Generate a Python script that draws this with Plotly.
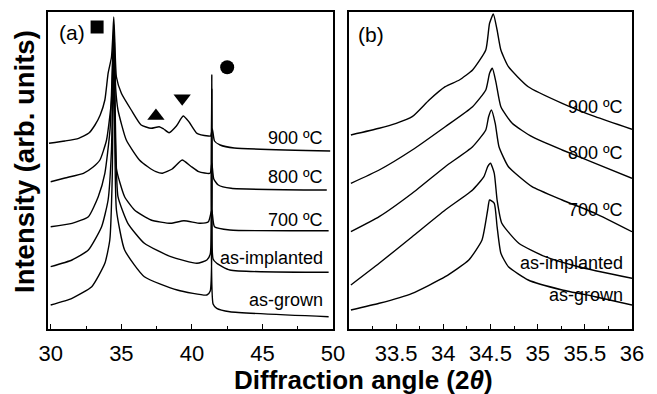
import plotly.graph_objects as go

# ---------------- Panel (a): wide scan 30-50 deg ----------------
a_900_x = [29.87, 31.0, 31.97, 32.7, 33.13, 33.5, 33.83, 34.06, 34.30, 34.40, 34.46, 34.53, 34.65, 35.0, 35.7, 36.4, 37.1, 37.68, 38.0, 38.38, 38.9, 39.38, 39.8, 40.36, 41.17, 41.33, 41.45, 41.6, 42.0, 43.0, 49.8]
a_900_y = [185.7, 188, 190.7, 196, 204, 214, 229, 255.7, 272, 295, 312, 290, 252, 235.7, 219, 204, 200.7, 202.3, 200, 196.3, 203, 213, 207, 195.7, 193, 193, 200, 188, 184, 181, 178]

a_800_x = [29.99, 31.0, 32.31, 33.0, 33.48, 33.95, 34.30, 34.46, 34.6, 34.76, 35.35, 36.28, 36.9, 37.45, 37.91, 38.6, 39.31, 39.9, 40.48, 41.29, 41.41, 41.55, 41.87, 42.78, 49.56]
a_800_y = [147.3, 151, 155.7, 162, 169, 189, 229, 305, 240, 219, 189, 169, 162, 157.3, 155.7, 160, 169, 163, 157.3, 155.7, 166, 150, 144, 140.7, 139]

a_700_x = [29.99, 31.5, 32.66, 33.36, 33.83, 34.2, 34.46, 34.55, 34.65, 35.23, 35.93, 37.1, 38.5, 39.43, 40.59, 41.17, 41.41, 41.6, 42.69, 49.69]
a_700_y = [102.3, 105.7, 112.3, 132.3, 155.7, 200, 300, 210, 160, 132.3, 119, 109, 105.7, 108.3, 105.7, 107.3, 119, 102.3, 99, 98.3]

a_imp_x = [29.99, 31.5, 32.66, 33.6, 34.06, 34.3, 34.46, 34.6, 34.76, 35.46, 36.63, 38.5, 40.36, 41.06, 41.3, 41.41, 41.5, 41.76, 42.69, 49.69]
a_imp_y = [62.3, 69, 79, 102.3, 129, 180, 295, 190, 132.3, 105.7, 85.7, 72.3, 65.7, 69, 75, 240, 70, 65.7, 59, 56.7]

a_grown_x = [29.99, 31.5, 32.9, 33.83, 34.18, 34.35, 34.46, 34.55, 34.65, 35.23, 36.63, 38.96, 41.06, 41.3, 41.41, 41.5, 41.76, 42.69, 49.69]
a_grown_y = [24, 30.7, 42.3, 65.7, 89, 150, 290, 170, 119, 79, 52.3, 39, 34, 38, 254, 25, 20.7, 17.3, 12.3]

# peak markers (square, up-triangle, down-triangle, circle)
mark_x = [33.28, 37.45, 39.31, 42.5]
mark_y = [302, 213, 230.7, 261.7]
mark_sym = ["square", "triangle-up", "triangle-down", "circle"]

# ---------------- Panel (b): zoom 33-36 deg ----------------
b_900_x = [33.02, 33.32, 33.50, 33.67, 33.85, 34.02, 34.17, 34.31, 34.45, 34.49, 34.53, 34.57, 34.61, 34.69, 34.90, 35.26, 35.61, 36.0]
b_900_y = [194, 200.7, 205.7, 212.3, 229, 242.3, 249, 259, 279, 305.7, 315, 299, 279, 262.3, 242.3, 225.7, 212.3, 199.7]

b_800_x = [33.02, 33.32, 33.67, 34.02, 34.31, 34.45, 34.49, 34.52, 34.56, 34.61, 34.73, 34.94, 35.26, 35.61, 36.0]
b_800_y = [145.7, 159, 179, 202.3, 222.3, 239, 255.7, 260.7, 245.7, 222.3, 205.7, 192.3, 179, 165.7, 150.7]

b_700_x = [33.02, 33.32, 33.67, 34.02, 34.31, 34.45, 34.48, 34.51, 34.55, 34.59, 34.69, 34.94, 35.26, 35.61, 36.0]
b_700_y = [97.3, 112.3, 135.7, 162.3, 182.3, 199, 212.3, 219, 205.7, 182.3, 162.3, 142.3, 129, 115.7, 97.3]

b_imp_x = [33.02, 33.32, 33.67, 34.02, 34.31, 34.43, 34.47, 34.50, 34.54, 34.57, 34.62, 34.80, 35.08, 35.43, 36.0]
b_imp_y = [44, 65.7, 92.3, 119, 139, 152.3, 162.3, 165.7, 155.7, 129, 105.7, 85.7, 72.3, 62.3, 50.7]

b_grown_x = [33.02, 33.32, 33.67, 34.02, 34.27, 34.41, 34.47, 34.49, 34.54, 34.57, 34.61, 34.69, 34.90, 35.26, 35.61, 36.0]
b_grown_y = [19, 25.7, 35.7, 52.3, 69, 89, 119, 129, 125.7, 102.3, 75.7, 62.3, 49, 39, 32.3, 24]

curve_labels = ["900 ºC", "800 ºC", "700 ºC", "as-implanted", "as-grown"]
a_label_y = [191, 152.3, 109, 70.7, 29]
b_label_y = [222.3, 176, 119, 66, 34]

a_ticks = [30, 35, 40, 45, 50]
b_ticks = [33.5, 34, 34.5, 35, 35.5, 36]
b_tick_text = ["33.5", "34", "34.5", "35", "35.5", "36"]

FONT = "Liberation Sans, Arial, sans-serif"
W, H = 657, 394

fig = go.Figure()
line = dict(color="black", width=1.4, shape="spline", smoothing=0.5)
for xs, ys in [(a_900_x, a_900_y), (a_800_x, a_800_y), (a_700_x, a_700_y),
               (a_imp_x, a_imp_y), (a_grown_x, a_grown_y)]:
    fig.add_trace(go.Scatter(x=xs, y=ys, mode="lines", line=line,
                             xaxis="x", yaxis="y", showlegend=False, hoverinfo="skip"))
fig.add_trace(go.Scatter(x=mark_x, y=mark_y, mode="markers",
                         marker=dict(symbol=mark_sym, size=[13, 15, 15, 14], color="black",
                                     opacity=1, line=dict(width=0)),
                         xaxis="x", yaxis="y", showlegend=False, hoverinfo="skip"))
for xs, ys in [(b_900_x, b_900_y), (b_800_x, b_800_y), (b_700_x, b_700_y),
               (b_imp_x, b_imp_y), (b_grown_x, b_grown_y)]:
    fig.add_trace(go.Scatter(x=xs, y=ys, mode="lines", line=line,
                             xaxis="x2", yaxis="y2", showlegend=False, hoverinfo="skip"))

annotations = []
for lab, yv in zip(curve_labels, a_label_y):
    annotations.append(dict(x=49.4, y=yv, xref="x", yref="y", text=lab, showarrow=False,
                            xanchor="right", yanchor="middle",
                            font=dict(family=FONT, size=18, color="black")))
for lab, yv in zip(curve_labels, b_label_y):
    annotations.append(dict(x=35.93, y=yv, xref="x2", yref="y2", text=lab, showarrow=False,
                            xanchor="right", yanchor="middle",
                            font=dict(family=FONT, size=18, color="black")))
annotations.append(dict(x=31.52, y=296, xref="x", yref="y", text="(a)", showarrow=False,
                        xanchor="center", yanchor="middle",
                        font=dict(family=FONT, size=21, color="black")))
annotations.append(dict(x=33.23, y=294, xref="x2", yref="y2", text="(b)", showarrow=False,
                        xanchor="center", yanchor="middle",
                        font=dict(family=FONT, size=21, color="black")))
annotations.append(dict(x=363 / W, y=1 - 380 / H, xref="paper", yref="paper",
                        text="<b>Diffraction angle (2<i>θ</i>)</b>", showarrow=False,
                        xanchor="center", yanchor="middle",
                        font=dict(family=FONT, size=26, color="black")))
annotations.append(dict(x=24 / W, y=1 - 162 / H, xref="paper", yref="paper",
                        text="<b>Intensity (arb. units)</b>", showarrow=False, textangle=-90,
                        xanchor="center", yanchor="middle",
                        font=dict(family=FONT, size=27.5, color="black")))

ydom = [1 - 329 / H, 1 - 12 / H]
common_x = dict(showline=True, linecolor="black", linewidth=1.5, mirror=True, automargin=False,
                ticks="inside", ticklen=5, tickcolor="black", tickwidth=1, showgrid=False,
                zeroline=False, tickfont=dict(family=FONT, size=22, color="black"),
                ticklabelstandoff=4)
common_y = dict(showline=True, linecolor="black", linewidth=1.5, mirror=True, automargin=False,
                showticklabels=False, ticks="", showgrid=False, zeroline=False,
                range=[0, 317], domain=ydom)

fig.update_layout(
    template="none",
    width=W, height=H, margin=dict(l=0, r=0, t=0, b=0, pad=0),
    paper_bgcolor="white", plot_bgcolor="white",
    xaxis=dict(common_x, domain=[48 / W, 333 / W], range=[29.8, 50.0],
               tickvals=a_ticks, anchor="y",
               minor=dict(ticks="inside", ticklen=3, dtick=2.5, tick0=30, tickcolor="black")),
    yaxis=dict(common_y, anchor="x"),
    xaxis2=dict(common_x, domain=[349 / W, 632 / W], range=[33.0, 36.0],
                tickvals=b_ticks, ticktext=b_tick_text, anchor="y2",
                minor=dict(ticks="inside", ticklen=3, dtick=0.25, tick0=33, tickcolor="black")),
    yaxis2=dict(common_y, anchor="x2"),
    annotations=annotations,
)

fig.write_html(
    "out.html",
    config={"displayModeBar": False},
    post_script="document.body.style.margin='0';document.body.style.padding='0';",
)
